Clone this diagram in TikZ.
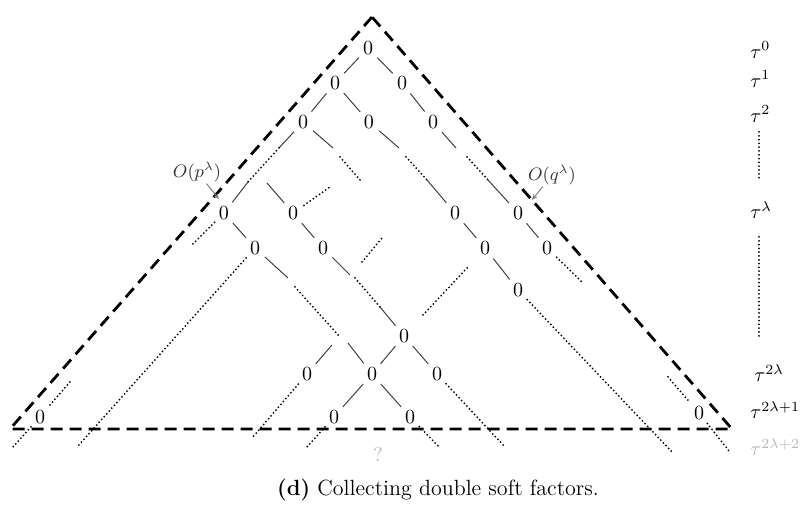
\documentclass[tikz,border=0pt]{standalone}
\usepackage{amsmath,amssymb}
\usetikzlibrary{arrows.meta}

\begin{document}
\begin{tikzpicture}[x=0.5pt,y=-0.5pt,
  zero/.style={circle,inner sep=0pt,minimum size=13pt},
  edge/.style={black!75,line width=0.5pt},
  dots/.style={line width=1pt,line cap=round,dash pattern=on 0pt off 1.9pt},
  bound/.style={line width=1.4pt,dash pattern=on 6pt off 3.5pt},
  pointer/.style={gray,line width=0.5pt,-{Stealth[length=3pt,width=2.5pt]}},
  power/.style={anchor=west,inner sep=0pt}]
  \useasboundingbox (0,0) rectangle (800,506);

  % light cone
  \coordinate (apex) at (372,17);
  \coordinate (bl) at (10,429);
  \coordinate (br) at (732,429);
  \draw[bound] (apex) -- (bl) -- (br) -- cycle;

  % vanishing coefficients
  \node[zero] (t0) at (368,48) {0};
  \node[zero] (a1) at (335,83) {0};
  \node[zero] (b1) at (402,83) {0};
  \node[zero] (a2) at (303,122) {0};
  \node[zero] (c2) at (369,122) {0};
  \node[zero] (b2) at (433,122) {0};
  \node[zero] (l1) at (224,213) {0};
  \node[zero] (l2) at (293,213) {0};
  \node[zero] (l3) at (255,248) {0};
  \node[zero] (l4) at (323,248) {0};
  \node[zero] (r1) at (455,213) {0};
  \node[zero] (r2) at (518,213) {0};
  \node[zero] (r3) at (485,248) {0};
  \node[zero] (r4) at (547,248) {0};
  \node[zero] (r5) at (518,290) {0};
  \node[zero] (m) at (404,336) {0};
  \node[zero] (m1) at (307,374) {0};
  \node[zero] (m2) at (372,374) {0};
  \node[zero] (m3) at (437,374) {0};
  \node[zero] (m4) at (334,417) {0};
  \node[zero] (m5) at (410,417) {0};
  \node[zero] (e1) at (40,417) {0};
  \node[zero] (e2) at (699,413) {0};

  % break points of the diagonals
  \coordinate (la) at (279,148);
  \coordinate (lb) at (248,182);
  \coordinate (ma) at (333,148);
  \coordinate (mb) at (340,157);
  \coordinate (mc) at (360,180);
  \coordinate (na) at (399,148);
  \coordinate (nb) at (406,157);
  \coordinate (nc) at (427,180);
  \coordinate (oa) at (456,148);
  \coordinate (ob) at (467,157);
  \coordinate (oc) at (488,180);
  \coordinate (pa) at (267,183);
  \coordinate (pb) at (330,187);
  \coordinate (qa) at (192,245);
  \coordinate (ua) at (362,262);
  \coordinate (ub) at (382,238);
  \coordinate (va) at (78,446);
  \coordinate (wa) at (288,278);
  \coordinate (wb) at (295,287);
  \coordinate (wc) at (340,337);
  \coordinate (wd) at (348,343);
  \coordinate (xa) at (350,275);
  \coordinate (xb) at (355,278);
  \coordinate (xc) at (380,307);
  \coordinate (ya) at (423,315);
  \coordinate (yb) at (468,267);
  \coordinate (za) at (583,283);
  \coordinate (zb) at (672,452);
  \coordinate (ka) at (332,345);
  \coordinate (kb) at (252,438);
  \coordinate (kc) at (306,448);
  \coordinate (kd) at (440,448);
  \coordinate (ke) at (505,447);
  \coordinate (ja) at (50,405);
  \coordinate (jb) at (70,382);
  \coordinate (jc) at (12,448);
  \coordinate (ia) at (668,377);
  \coordinate (ib) at (729,451);

  % solid pieces
  \draw[edge] (t0) -- (a1);
  \draw[edge] (t0) -- (b1);
  \draw[edge] (a1) -- (a2);
  \draw[edge] (a1) -- (c2);
  \draw[edge] (b1) -- (b2);
  \draw[edge] (a2) -- (la);
  \draw[edge] (lb) -- (l1);
  \draw[edge] (a2) -- (ma);
  \draw[edge] (c2) -- (na);
  \draw[edge] (nc) -- (r1);
  \draw[edge] (b2) -- (oa);
  \draw[edge] (oc) -- (r2);
  \draw[edge] (pa) -- (l2);
  \draw[edge] (l1) -- (l3);
  \draw[edge] (l2) -- (l4);
  \draw[edge] (r1) -- (r3);
  \draw[edge] (r2) -- (r4);
  \draw[edge] (r3) -- (r5);
  \draw[edge] (l3) -- (wa);
  \draw[edge] (wd) -- (m2);
  \draw[edge] (l4) -- (xa);
  \draw[edge] (xc) -- (m);
  \draw[edge] (m) -- (m2);
  \draw[edge] (m) -- (m3);
  \draw[edge] (m1) -- (ka);
  \draw[edge] (m2) -- (m4);
  \draw[edge] (m2) -- (m5);

  % dotted pieces
  \draw[dots] (la) -- (lb);
  \draw[dots] (mb) -- (mc);
  \draw[dots] (nb) -- (nc);
  \draw[dots] (ob) -- (oc);
  \draw[dots] (l2) -- (pb);
  \draw[dots] (l1) -- (qa);
  \draw[dots] (ua) -- (ub);
  \draw[dots] (l3) -- (va);
  \draw[dots] (wb) -- (wc);
  \draw[dots] (xb) -- (xc);
  \draw[dots] (ya) -- (yb);
  \draw[dots] (r4) -- (za);
  \draw[dots] (r5) -- (zb);
  \draw[dots] (m1) -- (kb);
  \draw[dots] (m4) -- (kc);
  \draw[dots] (m5) -- (kd);
  \draw[dots] (m3) -- (ke);
  \draw[dots] (ja) -- (jb);
  \draw[dots] (e1) -- (jc);
  \draw[dots] (ia) -- (e2);
  \draw[dots] (e2) -- (ib);

  % soft orders
  \node[black!80,font=\small,inner sep=0.5pt] (op) at (197,172) {$O(p^\lambda)$};
  \node[black!80,font=\small,inner sep=0.5pt] (oq) at (552,175) {$O(q^\lambda)$};
  \coordinate (optip) at (219,199);
  \coordinate (oqtip) at (532,200);
  \draw[pointer] (op) -- (optip);
  \draw[pointer] (oq) -- (oqtip);
  \node[gray!55] (unk) at (378,454) {?};

  % powers of tau
  \node[power] (tau0) at (750,50) {$\tau^0$};
  \node[power] (tau1) at (750,79) {$\tau^1$};
  \node[power] (tau2) at (750,114) {$\tau^2$};
  \node[power] (taul) at (750,210) {$\tau^\lambda$};
  \node[power] (tau2l) at (754,373) {$\tau^{2\lambda}$};
  \node[power] (tau2l1) at (750,410) {$\tau^{2\lambda+1}$};
  \node[power,gray!55] (tau2l2) at (750,447) {$\tau^{2\lambda+2}$};
  \coordinate (v1) at (759,132);
  \coordinate (v2) at (759,180);
  \coordinate (v3) at (759,237);
  \coordinate (v4) at (759,338);
  \draw[dots] (v1) -- (v2);
  \draw[dots] (v3) -- (v4);

  \node[font=\fontsize{11}{13}\selectfont] (cap) at (438,490)
    {\textbf{(d)} Collecting double soft factors.};
\end{tikzpicture}
\end{document}
